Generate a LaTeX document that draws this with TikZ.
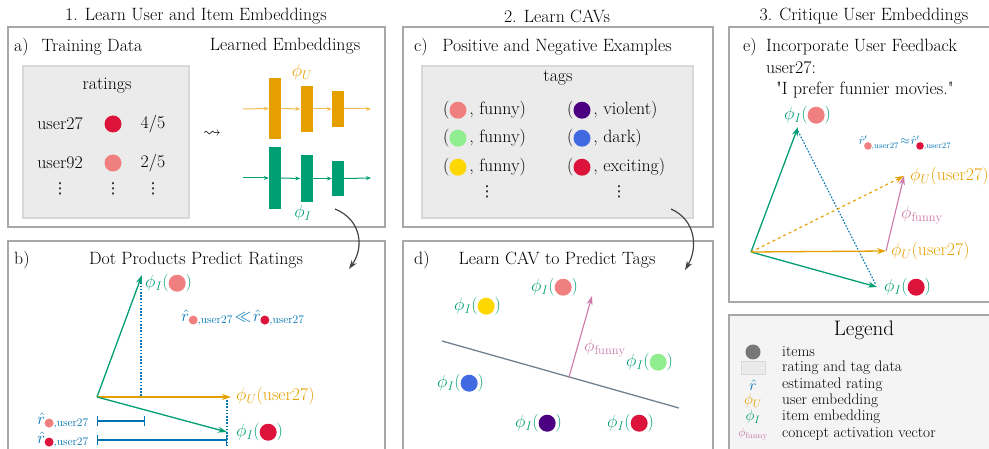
\RequirePackage{fix-cm}
\documentclass[tikz,border=0pt]{standalone}
\usepackage{amsmath,amssymb}
\usepackage{fontspec}
\newfontfamily\djv{DejaVu Sans}
\usetikzlibrary{arrows.meta}
\definecolor{cOr}{HTML}{E69F00}
\definecolor{cGr}{HTML}{009E73}
\definecolor{cBl}{HTML}{0072B2}
\definecolor{cPk}{HTML}{CC79A7}
\definecolor{dPink}{HTML}{F08080}
\definecolor{dRed}{HTML}{DC143C}
\definecolor{dGreen}{HTML}{90EE90}
\definecolor{dGold}{HTML}{FFD700}
\definecolor{dIndigo}{HTML}{4B0082}
\definecolor{dBlue}{HTML}{4169E1}
\definecolor{panelc}{HTML}{A8A8A8}
\definecolor{datafill}{HTML}{EBEBEB}
\definecolor{dataline}{HTML}{D8D8D8}
\definecolor{legfill}{HTML}{F4F4F4}
\definecolor{sepc}{HTML}{708090}
\definecolor{curvc}{HTML}{444444}
\definecolor{itemc}{HTML}{777777}
\newcommand{\bdot}[2][8.5pt]{\tikz[baseline=-0.55ex]\fill[#2] (0pt,0pt) circle[radius=#1];}
\newcommand{\vdts}{{\djv\fontsize{15}{18}\selectfont ⋮}}
\begin{document}
\begin{tikzpicture}[x=1pt,y=-1pt,
  every node/.style={font=\fontsize{17.8}{21}\selectfont, inner sep=0pt},
  panel/.style={draw=panelc, line width=1.2pt},
  databox/.style={fill=datafill, draw=dataline, line width=1.5pt},
  vec/.style={-{Stealth[length=9pt,width=6pt]}, line width=1.3pt},
  embarrow/.style={-{Stealth[length=5pt,width=4pt]}, line width=1pt},
  bar/.style={rectangle, minimum width=12pt},
  curv/.style={-{Stealth[length=9pt,width=6pt]}, draw=curvc, line width=1.2pt},
  dotl/.style={line width=1.1pt, dash pattern=on 1.6pt off 1.6pt, cBl},
  small/.style={font=\fontsize{16.5}{19}\selectfont},
  tiny/.style={font=\fontsize{11.8}{14}\selectfont},
  leg/.style={font=\fontsize{15.3}{17}\selectfont, anchor=west},
  itemdot/.style={circle, minimum size=17pt}]
\useasboundingbox (0,0) rectangle (989,449);
\clip (0,0) rectangle (989,449);

% titles
\node (t1) at (196,16) {1. Learn User and Item Embeddings};
\node (t2) at (557,16) {2. Learn CAVs};
\node (t3) at (864,16) {3. Critique User Embeddings};

% panels
\draw[panel] (8,27) rectangle (385,227);
\draw[panel] (8,241) rectangle (385,470);
\draw[panel] (403,27) rectangle (713,227);
\draw[panel] (403,241) rectangle (713,470);
\draw[panel] (729,27) rectangle (1000,302);
\draw[panel, fill=legfill] (729,315) rectangle (1000,470);

% ---------- panel a
\node[anchor=west] (la) at (14,47) {a)};
\node (ta) at (92,47) {Training Data};
\node (tle) at (285,46) {Learned Embeddings};
\draw[databox] (23,66) rectangle (189,218);
\node (rat) at (107,86) {ratings};
\node (u27) at (60,124) {user27};
\node[itemdot, fill=dRed] (d27) at (113,124) {};
\node (s27) at (153,124) {4/5};
\node (u92) at (60,163) {user92};
\node[itemdot, fill=dPink] (d92) at (113,163) {};
\node (s92) at (153,163) {2/5};
\node (v1) at (60,189) {\vdts};
\node (v2) at (113,189) {\vdts};
\node (v3) at (153,189) {\vdts};
\node (sq) at (212,134) {$\leadsto$};

\node[bar, fill=cOr, minimum height=61pt] (ub1) at (275,108.5) {};
\node[bar, fill=cOr, minimum height=46pt] (ub2) at (306.5,109) {};
\node[bar, fill=cOr, minimum height=36pt] (ub3) at (338,109) {};
\coordinate (us) at (243,109);
\coordinate (ue) at (371,109);
\draw[embarrow, cOr!70] (us) -- (ub1.west);
\draw[embarrow, cOr!70] (ub1.east) -- (ub2.west);
\draw[embarrow, cOr!70] (ub2.east) -- (ub3.west);
\draw[embarrow, cOr!70] (ub3.east) -- (ue);
\node[text=cOr] (phU) at (302,72) {$\phi_U$};

\node[bar, fill=cGr, minimum height=62pt] (gb1) at (275,178) {};
\node[bar, fill=cGr, minimum height=47pt] (gb2) at (306.5,178.5) {};
\node[bar, fill=cGr, minimum height=35pt] (gb3) at (338,178.5) {};
\coordinate (gs) at (243,178);
\coordinate (ge) at (371,178);
\draw[embarrow, cGr] (gs) -- (gb1.west);
\draw[embarrow, cGr] (gb1.east) -- (gb2.west);
\draw[embarrow, cGr] (gb2.east) -- (gb3.west);
\draw[embarrow, cGr] (gb3.east) -- (ge);
\node[text=cGr] (phI) at (303,213) {$\phi_I$};

\coordinate (ca1) at (335,209);
\coordinate (ca2) at (349,269);
\draw[curv] (ca1) .. controls (362,220) and (364,248) .. (ca2);

% ---------- panel b
\node[anchor=west] (lb) at (14,260) {b)};
\node (tb) at (196,260) {Dot Products Predict Ratings};
\coordinate (Ob) at (97,397);
\coordinate (Ipb) at (142,275);
\coordinate (Ub) at (231,397);
\coordinate (Irb) at (227,432);
\coordinate (pp1) at (141,396);
\coordinate (pp2) at (141,280);
\coordinate (pr1) at (227,400);
\coordinate (pr2) at (227,446);
\draw[dotl] (pp1) -- (pp2);
\draw[dotl] (pr1) -- (pr2);
\draw[vec, cGr] (Ob) -- (Ipb);
\draw[vec, cOr] (Ob) -- (Ub);
\draw[vec, cGr] (Ob) -- (Irb);
\node[anchor=west, text=cGr] (lIpb) at (145,283) {$\phi_I(\bdot{dPink})$};
\node[anchor=west, text=cOr] (lUb) at (236,396) {$\phi_U(\mathrm{user27})$};
\node[anchor=west, text=cGr] (lIrb) at (236,432) {$\phi_I(\bdot{dRed})$};
\node[small, text=cBl] (cmp) at (243,318) {$\hat{r}_{\bdot[4.5pt]{dPink},\mathrm{user27}}\!\ll\!\hat{r}_{\bdot[4.5pt]{dRed},\mathrm{user27}}$};
\coordinate (ia1) at (97,421);
\coordinate (ia2) at (145,421);
\coordinate (ib1) at (97,440);
\coordinate (ib2) at (227,440);
\draw[cBl, line width=1.3pt, {Bar[width=10pt]}-{Bar[width=10pt]}] (ia1) -- (ia2);
\draw[cBl, line width=1.3pt, {Bar[width=10pt]}-{Bar[width=10pt]}] (ib1) -- (ib2);
\node[small, anchor=east, text=cBl] (lia) at (89,421) {$\hat{r}_{\bdot[4.5pt]{dPink},\mathrm{user27}}$};
\node[small, anchor=east, text=cBl] (lib) at (89,440) {$\hat{r}_{\bdot[4.5pt]{dRed},\mathrm{user27}}$};

% ---------- panel c
\node[anchor=west] (lc) at (414,47) {c)};
\node (tc) at (557,47) {Positive and Negative Examples};
\draw[databox] (422,66) rectangle (693,218);
\node (tags) at (558,78) {tags};
\node[anchor=west] (p1) at (443,110) {(\bdot{dPink}\,, funny)};
\node[anchor=west] (p2) at (443,138) {(\bdot{dGreen}\,, funny)};
\node[anchor=west] (p3) at (443,167) {(\bdot{dGold}\,, funny)};
\node[anchor=west] (n1) at (567,110) {(\bdot{dIndigo}\,, violent)};
\node[anchor=west] (n2) at (567,138) {(\bdot{dBlue}\,, dark)};
\node[anchor=west] (n3) at (567,167) {(\bdot{dRed}\,, exciting)};
\node (pv) at (487,192) {\vdts};
\node (nv) at (619,192) {\vdts};
\coordinate (cb1) at (671,209);
\coordinate (cb2) at (685,270);
\draw[curv] (cb1) .. controls (696,220) and (698,248) .. (cb2);

% ---------- panel d
\node[anchor=west] (ld) at (414,260) {d)};
\node (td) at (557,260) {Learn CAV to Predict Tags};
\coordinate (s1) at (442,341);
\coordinate (s2) at (679,408);
\draw[sepc, line width=1.3pt] (s1) -- (s2);
\coordinate (f1) at (569,377);
\coordinate (f2) at (592,296);
\draw[vec, cPk, line width=1.1pt] (f1) -- (f2);
\node[anchor=west, text=cPk] (lf) at (584,348) {$\phi_{\mathrm{funny}}$};
\node[anchor=west, text=cGr] (ipk) at (531,287) {$\phi_I(\bdot{dPink})$};
\node[anchor=west, text=cGr] (iyl) at (454,306) {$\phi_I(\bdot{dGold})$};
\node[anchor=west, text=cGr] (igr) at (626,362) {$\phi_I(\bdot{dGreen})$};
\node[anchor=west, text=cGr] (ibl) at (437,383) {$\phi_I(\bdot{dBlue})$};
\node[anchor=west, text=cGr] (ipu) at (515,423) {$\phi_I(\bdot{dIndigo})$};
\node[anchor=west, text=cGr] (ird) at (607,423) {$\phi_I(\bdot{dRed})$};

% ---------- panel e
\node[anchor=west] (le) at (743,47) {e)};
\node[anchor=west] (te) at (766,47) {Incorporate User Feedback};
\node[anchor=west] (te2) at (766,68) {user27:};
\node[anchor=west] (te3) at (776,90) {\textquotedbl I prefer funnier movies.\textquotedbl};
\coordinate (Oe) at (751,252);
\coordinate (Ipe) at (798,127);
\coordinate (Ire) at (877,287);
\coordinate (Ue) at (886,251);
\coordinate (Une) at (904,176);
\coordinate (dt1) at (798,131);
\coordinate (dt2) at (876,285);
\draw[dotl] (dt1) -- (dt2);
\draw[vec, cGr] (Oe) -- (Ipe);
\draw[vec, cGr] (Oe) -- (Ire);
\draw[vec, cOr] (Oe) -- (Ue);
\draw[vec, cOr, dashed, line width=1.1pt] (Oe) -- (Une);
\draw[vec, cPk, line width=1.1pt] (Ue) -- (Une);
\node[anchor=west, text=cGr] (lIpe) at (784,115) {$\phi_I(\bdot{dPink})$};
\node[anchor=west, text=cGr] (lIre) at (884,287) {$\phi_I(\bdot{dRed})$};
\node[anchor=west, text=cOr] (lUe) at (891,251) {$\phi_U(\mathrm{user27})$};
\node[anchor=west, text=cOr] (lUne) at (910,176) {$\phi_U(\mathrm{user27})$};
\node[anchor=west, text=cPk] (lfe) at (901,215) {$\phi_{\mathrm{funny}}$};
\node[tiny, text=cBl] (cmpe) at (905,143) {$\hat{r}'_{\bdot[3.8pt]{dPink},\mathrm{user27}}\!\approx\!\hat{r}'_{\bdot[3.8pt]{dRed},\mathrm{user27}}$};

% ---------- legend
\node[font=\fontsize{21}{24}\selectfont] (lg) at (864,330) {Legend};
\node[circle, fill=itemc, minimum size=15pt] (lg1s) at (753,352) {};
\node[leg] (lg1) at (782,352) {items};
\node[rectangle, fill=datafill, draw=dataline, line width=0.8pt, minimum width=24pt, minimum height=13pt] (lg2s) at (753,368) {};
\node[leg] (lg2) at (782,368) {rating and tag data};
\node[leg, anchor=center, text=cBl] (lg3s) at (753,385) {$\hat{r}$};
\node[leg] (lg3) at (782,385) {estimated rating};
\node[leg, anchor=center, text=cOr] (lg4s) at (753,401) {$\phi_U$};
\node[leg] (lg4) at (782,401) {user embedding};
\node[leg, anchor=center, text=cGr] (lg5s) at (753,417) {$\phi_I$};
\node[leg] (lg5) at (782,417) {item embedding};
\node[tiny, text=cPk] (lg6s) at (753,434) {$\phi_{\mathrm{funny}}$};
\node[leg] (lg6) at (782,434) {concept activation vector};
\end{tikzpicture}
\end{document}
